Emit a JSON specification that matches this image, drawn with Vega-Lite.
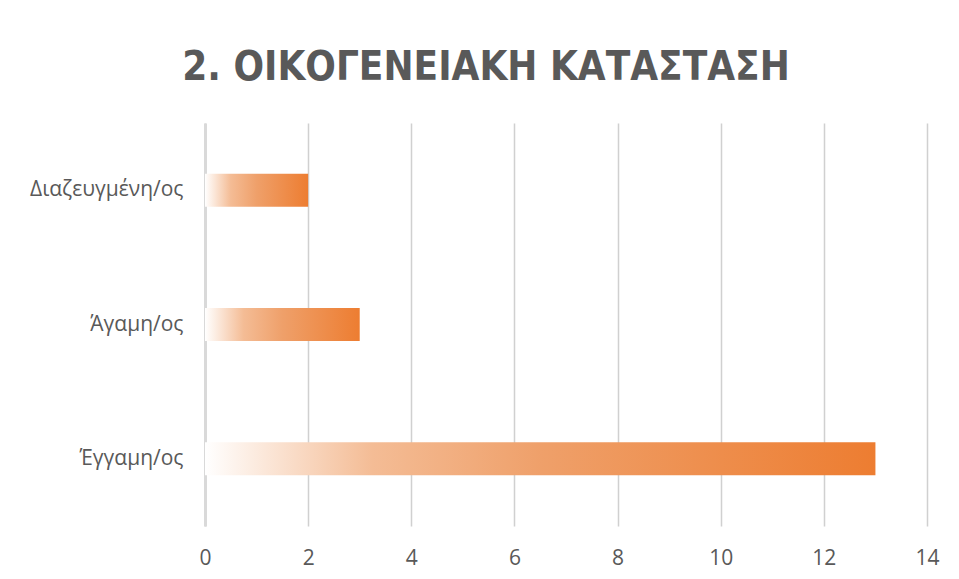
{
  "$schema": "https://vega.github.io/schema/vega-lite/v6.json",
  "autosize": {"type": "none"},
  "width": 722,
  "height": 403,
  "padding": {"left": 205, "top": 123, "right": 32, "bottom": 53},
  "background": "white",
  "title": {
    "text": "2. ΟΙΚΟΓΕΝΕΙΑΚΗ ΚΑΤΑΣΤΑΣΗ",
    "font": "DejaVu Sans Condensed, Roboto Condensed, Roboto",
    "fontSize": 40,
    "fontWeight": "bold",
    "color": "#595959",
    "anchor": "middle",
    "dx": -80,
    "offset": 35
  },
  "data": {
    "values": [
      {"category": "Διαζευγμένη/ος", "value": 2},
      {"category": "Άγαμη/ος", "value": 3},
      {"category": "Έγγαμη/ος", "value": 13}
    ]
  },
  "mark": {
    "type": "bar",
    "size": 33,
    "color": {
      "gradient": "linear",
      "x1": 0, "y1": 0, "x2": 1, "y2": 0,
      "stops": [
        {"offset": 0, "color": "#ffffff"},
        {"offset": 0.25, "color": "#F4BC95"},
        {"offset": 0.5, "color": "#EFA06A"},
        {"offset": 1, "color": "#ED7D31"}
      ]
    }
  },
  "encoding": {
    "y": {
      "field": "category",
      "type": "nominal",
      "sort": null,
      "scale": {"paddingInner": 0, "paddingOuter": 0},
      "axis": {
        "title": null,
        "ticks": false,
        "domain": true,
        "domainColor": "#d9d9d9",
        "domainWidth": 3,
        "labelFont": "Open Sans",
        "labelFontSize": 21,
        "labelColor": "#595959",
        "labelPadding": 22
      }
    },
    "x": {
      "field": "value",
      "type": "quantitative",
      "scale": {"domain": [0, 14], "nice": false},
      "axis": {
        "title": null,
        "values": [0, 2, 4, 6, 8, 10, 12, 14],
        "ticks": false,
        "domain": false,
        "grid": true,
        "gridColor": "#d0d0d0",
        "gridWidth": 1.5,
        "labelFlush": false,
        "labelFont": "Open Sans",
        "labelFontSize": 21,
        "labelColor": "#595959",
        "labelPadding": 21
      }
    }
  },
  "config": {"view": {"stroke": null}}
}
